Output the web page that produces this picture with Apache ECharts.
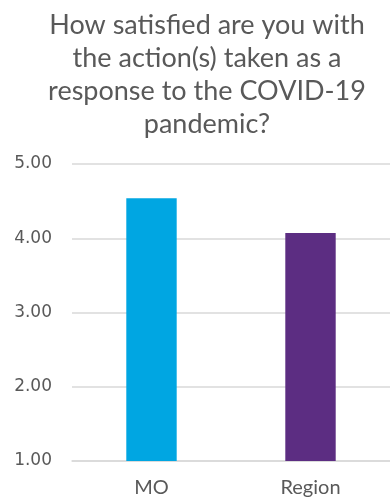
<!DOCTYPE html>
<html>
<head>
<meta charset="utf-8">
<script src="https://cdn.jsdelivr.net/npm/echarts@6/dist/echarts.min.js"></script>
<style>
  html, body { margin: 0; padding: 0; background: #ffffff; }
  #chart { width: 390px; height: 498px; }
</style>
</head>
<body>
<div id="chart"></div>
<script>
// Average satisfaction scores on a 1–5 scale
var titleText = 'How satisfied are you with\nthe action(s) taken as a\nresponse to the COVID-19\npandemic?';
var categories = ['MO', 'Region'];
var scores = [4.54, 4.07];
var barColors = ['#00A6E2', '#5C2D82'];

var chart = echarts.init(document.getElementById('chart'), null, { renderer: 'canvas' });

chart.setOption({
  animation: false,
  backgroundColor: '#ffffff',
  title: {
    text: titleText,
    left: 202,
    textAlign: 'center',
    top: 4,
    textStyle: {
      fontFamily: 'Lato',
      fontSize: 27,
      fontWeight: 'normal',
      color: '#595959',
      lineHeight: 33
    }
  },
  grid: { left: 72, right: -4, top: 164, bottom: 37 },
  xAxis: {
    type: 'category',
    data: categories,
    axisLine: { show: true, lineStyle: { color: '#D9D9D9', width: 1.5 } },
    axisTick: { show: false },
    axisLabel: {
      color: '#595959',
      fontFamily: 'Lato',
      fontSize: 20,
      margin: 17
    }
  },
  yAxis: {
    type: 'value',
    min: 1,
    max: 5,
    interval: 1,
    axisLine: { show: false },
    axisTick: { show: false },
    splitLine: { lineStyle: { color: '#D9D9D9', width: 1.5 } },
    axisLabel: {
      color: '#595959',
      fontFamily: 'DejaVu Sans',
      fontSize: 17,
      margin: 20,
      formatter: function (v) { return v.toFixed(2); }
    }
  },
  series: [{
    type: 'bar',
    data: scores.map(function (v, i) {
      return { value: v, itemStyle: { color: barColors[i] } };
    }),
    barWidth: '31.7%'
  }]
});
</script>
</body>
</html>
